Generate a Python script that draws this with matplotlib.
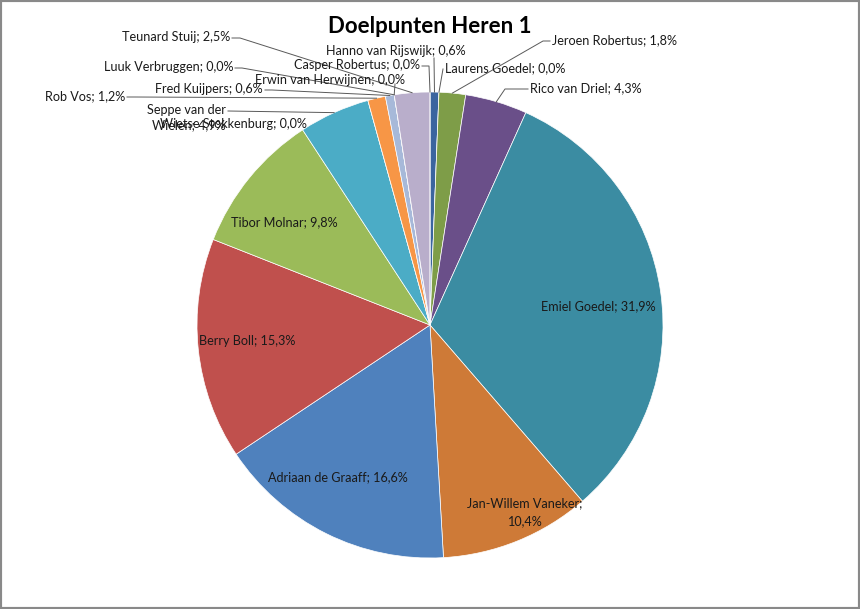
import numpy as np
import matplotlib.pyplot as plt
from matplotlib.patches import Rectangle

plt.rcParams['font.family'] = ['Lato', 'DejaVu Sans']

# doelpunten per speler (volgorde met de klok mee vanaf 12 uur)
spelers = ["Hanno van Rijswijk", "Laurens Goedel", "Jeroen Robertus", "Rico van Driel",
           "Emiel Goedel", "Jan-Willem Vaneker", "Adriaan de Graaff", "Berry Boll",
           "Tibor Molnar", "Seppe van der Wielen", "Wietse Stokkenburg", "Rob Vos",
           "Fred Kuijpers", "Luuk Verbruggen", "Erwin van Herwijnen", "Teunard Stuij",
           "Casper Robertus"]
doelpunten = [1, 0, 3, 7, 52, 17, 27, 25, 16, 8, 0, 2, 1, 0, 0, 4, 0]
kleuren = ["#3b659f", "#4f81bd", "#7e9d48", "#6a4f89", "#3b8ca2", "#ce7a37",
           "#4f81bd", "#c0504d", "#9bbb59", "#4bacc6", "#8064a2", "#f79646",
           "#a7b9d9", "#cd7371", "#afc97a", "#b9aecb", "#6fbdd1"]

# figuur: 860x609 px, 1 data-eenheid = straal van de taart
W, H = 860, 609
cx, cy, R = 430, 325, 233
fig = plt.figure(figsize=(W / 100, H / 100), dpi=100)
ax = fig.add_axes([0, 0, 1, 1])

def P(px, py):
    # pixelpositie -> data coordinaten
    return ((px - cx) / R, (cy - py) / R)

wedges, _ = ax.pie(doelpunten, colors=kleuren, startangle=90, counterclock=False,
                   radius=1, wedgeprops=dict(edgecolor='white', linewidth=0.5))
# na pie(), want pie zet zelf de grenzen
ax.set_xlim(-cx / R, (W - cx) / R)
ax.set_ylim((cy - H) / R, cy / R)
ax.set_aspect('equal')
ax.axis('off')

totaal = sum(doelpunten)
pct = [100.0 * d / totaal for d in doelpunten]

def fmt(p):
    return ("%.1f%%" % p).replace('.', ',')

def rand(i):
    # punt op de rand midden in het segment
    t = wedges[i]
    a = np.deg2rad((t.theta1 + t.theta2) / 2)
    return np.cos(a), np.sin(a)

fs = 9.1
tc = '#1a1a1a'
lc = '#595959'

# labels in het segment
binnen = {4: (598, 306), 6: (338, 477), 7: (247, 341), 8: (284, 222)}
for i, (px, py) in binnen.items():
    ax.text(*P(px, py), "%s; %s" % (spelers[i], fmt(pct[i])), ha='center', va='center',
            fontsize=fs, color=tc)
ax.text(*P(525, 512), "%s;\n%s" % (spelers[5], fmt(pct[5])), ha='center', va='center',
        fontsize=fs, color=tc, linespacing=1.55)

# labels buiten met verbindingslijnen: (index, tekst-x, tekst-y, ha, anker, knik)
buiten = [
    (15, 230, 37, 'right', (232, 38), (240, 38)),
    (13, 233, 67, 'right', (235, 68), (242, 68)),
    (11, 125, 96, 'right', (127, 97), (135, 97)),
    (12, 263, 89, 'right', (265, 90), (272, 90)),
    (14, 405, 80, 'right', None, None),
    (16, 420, 65, 'right', (422, 66), (429, 66)),
    (0, 466, 51, 'right', (434, 58), (434, 58)),
    (1, 445, 68, 'left', (443, 69), (443, 69)),
    (2, 552, 40, 'left', (550, 41), (543, 41)),
    (3, 530, 88, 'left', (528, 89), (505, 89)),
    (10, 160, 124, 'left', None, None),
]
for i, px, py, ha, anker, knik in buiten:
    ax.text(*P(px, py), "%s; %s" % (spelers[i], fmt(pct[i])), ha=ha, va='center',
            fontsize=fs, color=tc)
    if anker is not None:
        ex, ey = rand(i)
        a = P(*anker)
        k = P(*knik)
        ax.plot([a[0], k[0], ex], [a[1], k[1], ey], color=lc, lw=0.7)

# Erwin: korte verticale lijn
ex, ey = rand(14)
ax.plot([P(395, 84)[0], ex], [P(395, 84)[1], ey], color=lc, lw=0.7)

# Seppe: label op twee regels
ax.text(*P(226, 110), "Seppe van der", ha='right', va='center', fontsize=fs, color=tc)
ax.text(*P(226, 125), "Wielen; " + fmt(pct[9]), ha='right', va='center', fontsize=fs, color=tc)
ex, ey = rand(9)
ax.plot([P(228, 111)[0], ex], [P(228, 111)[1], ey], color=lc, lw=0.7)

ax.text(*P(430, 27), "Doelpunten Heren 1", ha='center', va='center', fontsize=16,
        fontweight='bold', color='black')

fig.patches.append(Rectangle((0, 0), 1, 1, transform=fig.transFigure, fill=False,
                             edgecolor='#898989', linewidth=3))

fig.savefig('out.png', dpi=100)
